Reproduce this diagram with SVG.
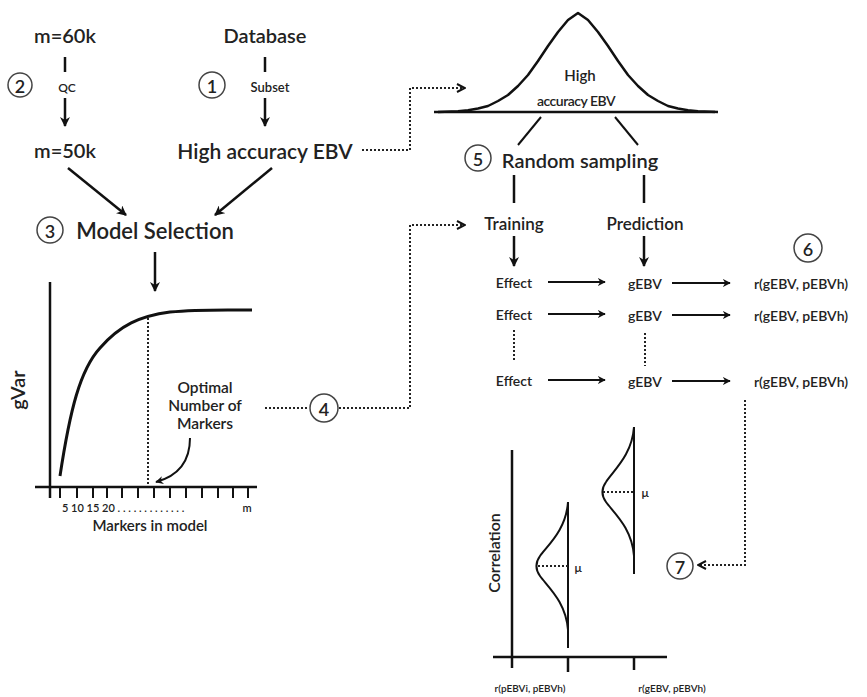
<svg xmlns="http://www.w3.org/2000/svg" width="867" height="697" viewBox="0 0 867 697">
<style>
text{font-family:Lato,"Open Sans","Liberation Sans",sans-serif;fill:#222;font-weight:600;text-anchor:middle;dominant-baseline:central}
.ln{stroke:#111;stroke-width:2.5;fill:none}
.thin{stroke:#111;stroke-width:2;fill:none}
.dot{stroke:#222;stroke-width:2;fill:none;stroke-dasharray:2 2}
.circ{fill:#fff;stroke:#444;stroke-width:1.5}
.num{font-size:18px}
</style>
<defs>
<marker id="ah" viewBox="0 0 10 10" refX="9" refY="5" markerWidth="4" markerHeight="4" orient="auto"><path d="M0,0 L10,5 L0,10 L3,5 z" fill="#111"/></marker>
<marker id="ao" viewBox="0 0 10 10" refX="9" refY="5" markerWidth="5" markerHeight="5" orient="auto"><path d="M1,1 L9,5 L1,9" fill="none" stroke="#111" stroke-width="2"/></marker>
</defs>
<rect width="867" height="697" fill="#fff"/>

<g id="n-m60k"><text x="65" y="35" font-size="20">m=60k</text></g>
<g id="n-db"><text x="265" y="35" font-size="20">Database</text></g>
<g id="n-qc"><circle class="circ" cx="20" cy="85" r="12"/><text class="num" x="20" y="86">2</text><text x="67" y="87" font-size="12">QC</text></g>
<g id="n-subset"><circle class="circ" cx="212" cy="85" r="13"/><text class="num" x="212" y="86">1</text><text x="270" y="87" font-size="13">Subset</text></g>
<g id="n-m50k"><text x="65" y="150" font-size="20">m=50k</text></g>
<g id="n-hebv"><text x="265" y="150" font-size="21">High accuracy EBV</text></g>
<g id="n-model"><circle class="circ" cx="50" cy="230" r="13"/><text class="num" x="50" y="231">3</text><text x="155" y="230" font-size="22">Model Selection</text></g>

<g id="plot-gvar">
<line class="ln" x1="50" y1="282" x2="50" y2="498"/>
<line class="ln" x1="35" y1="487" x2="257" y2="487"/>
<path class="thin" d="M60,487v11M77,487v11M93,487v11M107,487v11M122,487v11M138,487v11M154,487v11M170,487v11M186,487v11M202,487v11M218,487v11M233,487v11M248,487v11"/>
<path d="M60,476 C70,410 80,370 100,348 C120,325 140,316 170,312 C200,309 230,310 252,310" stroke="#111" stroke-width="3" fill="none"/>
<line class="dot" x1="148" y1="318" x2="148" y2="486"/>
<text x="17" y="390" font-size="20" transform="rotate(-90 17 390)">gVar</text>
<text x="62" y="507" font-size="11" style="text-anchor:start">5 10 15 20 . . . . . . . . . . . . .</text>
<text x="247" y="507" font-size="11">m</text>
<text x="150" y="525" font-size="15">Markers in model</text>
<text x="205" y="387" font-size="15.5">Optimal</text>
<text x="205" y="405" font-size="15.5">Number of</text>
<text x="205" y="423" font-size="15.5">Markers</text>
<path class="thin" d="M190,438 C190,462 178,476 156,482" marker-end="url(#ah)"/>
</g>

<g id="n-4"><circle class="circ" cx="324" cy="408" r="14"/><text class="num" x="324" y="409">4</text></g>

<g id="n-bell">
<line class="ln" x1="434" y1="112" x2="715" y2="112"/>
<path d="M438,112 L458,111.2 L468,110.2 L478,108.5 L488,106 L498,101 L508,95 L518,86 L528,75 L538,61 L548,46 L558,32 L568,20 L578,13 L588,20 L598,32 L608,46 L618,61 L628,75 L638,86 L648,95 L658,101 L668,106 L678,108.5 L688,110.2 L698,111.2 L718,112" stroke="#111" stroke-width="2.5" fill="none" stroke-linejoin="round"/>
<text x="580" y="75" font-size="15">High</text>
<text x="576" y="100" font-size="14" letter-spacing="-0.5">accuracy EBV</text>
</g>
<g id="n-random"><circle class="circ" cx="478" cy="158" r="13"/><text class="num" x="478" y="159">5</text><text x="580" y="160" font-size="20">Random sampling</text></g>
<g id="n-training"><text x="514" y="223" font-size="17">Training</text></g>
<g id="n-prediction"><text x="645" y="223" font-size="17">Prediction</text></g>
<g id="n-6"><circle class="circ" cx="808" cy="248" r="14"/><text class="num" x="808" y="249">6</text></g>
<g id="n-rows">
<text x="514" y="282" font-size="14">Effect</text>
<text x="514" y="314" font-size="14">Effect</text>
<text x="514" y="380" font-size="14">Effect</text>
<text x="645" y="283" font-size="14">gEBV</text>
<text x="645" y="315" font-size="14">gEBV</text>
<text x="645" y="381" font-size="14">gEBV</text>
<text x="801" y="283" font-size="14">r(gEBV, pEBVh)</text>
<text x="801" y="315" font-size="14">r(gEBV, pEBVh)</text>
<text x="801" y="381" font-size="14">r(gEBV, pEBVh)</text>
</g>
<g id="n-7"><circle class="circ" cx="680" cy="566" r="13"/><text class="num" x="680" y="567">7</text></g>

<g id="plot-corr">
<line class="ln" x1="512" y1="450" x2="512" y2="668"/>
<line class="ln" x1="493" y1="657" x2="667" y2="657"/>
<line class="ln" x1="568" y1="657" x2="568" y2="672"/>
<line class="ln" x1="634" y1="657" x2="634" y2="670"/>
<text x="493" y="553" font-size="16" transform="rotate(-90 493 553)">Correlation</text>
<line class="thin" x1="568" y1="502" x2="568" y2="648"/>
<path class="thin" d="M568,502 C566,530 548,545 540,556 C535,563 535,569 540,576 C548,587 566,602 568,630"/>
<line class="dot" x1="538" y1="566" x2="568" y2="566"/>
<text x="578" y="567" font-size="12" fill="#222" style="fill:#222">μ</text>
<line class="thin" x1="634" y1="427" x2="634" y2="574"/>
<path class="thin" d="M634,427 C632,455 614,470 606,482 C601,489 601,495 606,502 C614,513 632,528 634,556"/>
<line class="dot" x1="603" y1="492" x2="634" y2="492"/>
<text x="645" y="492" font-size="12" style="fill:#222">μ</text>
<text x="530" y="688" font-size="10">r(pEBVi, pEBVh)</text>
<text x="672" y="688" font-size="10">r(gEBV, pEBVh)</text>
</g>

<g id="connectors">
<line class="ln" x1="65" y1="57" x2="65" y2="72"/>
<line class="ln" x1="65" y1="98" x2="65" y2="126" marker-end="url(#ah)"/>
<line class="ln" x1="265" y1="57" x2="265" y2="72"/>
<line class="ln" x1="265" y1="98" x2="265" y2="126" marker-end="url(#ah)"/>
<line class="ln" x1="68" y1="168" x2="126" y2="215" marker-end="url(#ah)"/>
<line class="ln" x1="272" y1="168" x2="215" y2="215" marker-end="url(#ah)"/>
<line class="ln" x1="155" y1="252" x2="155" y2="291" marker-end="url(#ah)"/>
<path class="dot" d="M362,150 H410 V88 H465" marker-end="url(#ao)"/>
<line class="dot" x1="265" y1="408" x2="309" y2="408"/>
<path class="dot" d="M339,408 H410 V225 H465" marker-end="url(#ao)"/>
<line class="thin" x1="541" y1="117" x2="518" y2="145"/>
<line class="thin" x1="615" y1="117" x2="638" y2="145"/>
<line class="ln" x1="514" y1="175" x2="514" y2="203"/>
<line class="ln" x1="644" y1="175" x2="644" y2="203"/>
<line class="ln" x1="514" y1="236" x2="514" y2="266" marker-end="url(#ah)"/>
<line class="ln" x1="644" y1="236" x2="644" y2="266" marker-end="url(#ah)"/>
<line class="thin" x1="548" y1="282" x2="605" y2="282" marker-end="url(#ah)"/>
<line class="thin" x1="548" y1="314" x2="605" y2="314" marker-end="url(#ah)"/>
<line class="thin" x1="548" y1="380" x2="605" y2="380" marker-end="url(#ah)"/>
<line class="thin" x1="672" y1="283" x2="730" y2="283" marker-end="url(#ah)"/>
<line class="thin" x1="672" y1="315" x2="730" y2="315" marker-end="url(#ah)"/>
<line class="thin" x1="672" y1="381" x2="730" y2="381" marker-end="url(#ah)"/>
<line class="dot" x1="514" y1="330" x2="514" y2="362" stroke-dasharray="2 5"/>
<line class="dot" x1="645" y1="333" x2="645" y2="366" stroke-dasharray="2 5"/>
<path class="dot" d="M745,400 V565 H698" marker-end="url(#ao)"/>
</g>
</svg>
